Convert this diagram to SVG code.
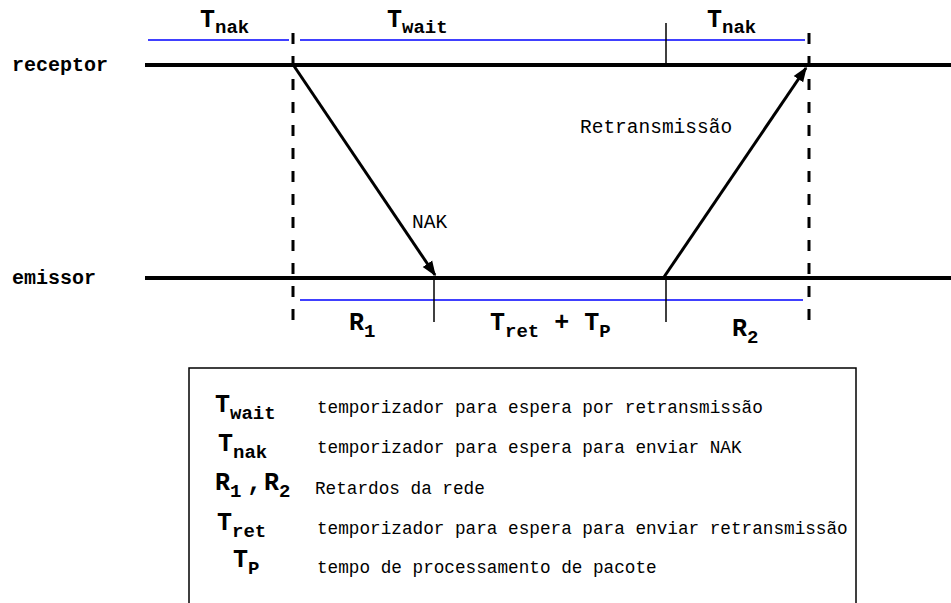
<svg xmlns="http://www.w3.org/2000/svg" width="951" height="603" viewBox="0 0 951 603">
<defs>
<style>
.lbl{font-family:"Liberation Mono","Courier New",monospace;font-weight:bold;font-size:20px;fill:#000}
.sym{font-family:"Liberation Mono","Courier New",monospace;font-weight:bold;font-size:25px;fill:#000}
.sub{font-size:19px}
.desc{font-family:"Liberation Mono","Courier New",monospace;font-size:17.7px;fill:#000}
.note{font-family:"Liberation Mono","Courier New",monospace;font-size:19.5px;fill:#000}
.axis{stroke:#000;stroke-width:4;fill:none}
.dash{stroke:#000;stroke-width:3;stroke-dasharray:11 12;fill:none}
.blue{stroke:#0000ff;stroke-width:1.5;fill:none}
.tick{stroke:#000;stroke-width:1.5;fill:none}
.msg{stroke:#000;stroke-width:3;fill:none}
</style>
<marker id="ah" viewBox="0 0 10 10" refX="9" refY="5" markerWidth="5" markerHeight="5" markerUnits="strokeWidth" orient="auto">
<path d="M0,1.2 L10,5 L0,8.8 z" fill="#000"/>
</marker>
</defs>
<rect width="951" height="603" fill="#fff"/>

<g id="receptor">
<line class="axis" x1="145" y1="65" x2="951" y2="65"/>
<text class="lbl" x="12" y="71">receptor</text>
</g>
<g id="emissor">
<line class="axis" x1="145" y1="278" x2="951" y2="278"/>
<text class="lbl" x="12" y="284">emissor</text>
</g>

<g id="timeline-marks">
<line class="dash" x1="293" y1="33" x2="293" y2="332"/>
<line class="dash" x1="809" y1="33" x2="809" y2="332"/>
<line class="blue" x1="148" y1="40" x2="289" y2="40"/>
<line class="blue" x1="300" y1="40" x2="805" y2="40"/>
<line class="blue" x1="300" y1="300" x2="803" y2="300"/>
<line class="tick" x1="666" y1="23" x2="666" y2="64"/>
<line class="tick" x1="434" y1="278" x2="434" y2="322"/>
<line class="tick" x1="666" y1="278" x2="666" y2="322"/>
</g>

<g id="connectors">
<line class="msg" x1="294" y1="66" x2="435" y2="275" marker-end="url(#ah)"/>
<line class="msg" x1="664" y1="277" x2="806" y2="68" marker-end="url(#ah)"/>
<text class="note" x="412" y="228">NAK</text>
<text class="note" x="580" y="133">Retransmissão</text>
</g>

<g id="interval-labels">
<text class="sym" x="200" y="27">T<tspan class="sub" dy="6">nak</tspan></text>
<text class="sym" x="387" y="27">T<tspan class="sub" dy="6">wait</tspan></text>
<text class="sym" x="707" y="27">T<tspan class="sub" dy="6">nak</tspan></text>
<text class="sym" x="349" y="330">R<tspan class="sub" dy="7">1</tspan></text>
<text class="sym" x="490" y="330">T<tspan class="sub" dy="7">ret</tspan><tspan dy="-7"> + T</tspan><tspan class="sub" dy="7">P</tspan></text>
<text class="sym" x="732" y="336">R<tspan class="sub" dy="7">2</tspan></text>
</g>

<g id="legend">
<rect x="189" y="368" width="667" height="260" fill="none" stroke="#000" stroke-width="1.5"/>
<text class="sym" x="215" y="412">T<tspan class="sub" dy="7">wait</tspan></text>
<text class="desc" x="317" y="413">temporizador para espera por retransmissão</text>
<text class="sym" x="218" y="451">T<tspan class="sub" dy="7">nak</tspan></text>
<text class="desc" x="317" y="453">temporizador para espera para enviar NAK</text>
<text class="sym" x="215" y="490">R<tspan class="sub" dy="7">1</tspan><tspan dy="-7" x="247">,</tspan><tspan x="264">R</tspan><tspan class="sub" dy="7">2</tspan></text>
<text class="desc" x="315" y="494">Retardos da rede</text>
<text class="sym" x="217" y="530">T<tspan class="sub" dy="7">ret</tspan></text>
<text class="desc" x="317" y="534">temporizador para espera para enviar retransmissão</text>
<text class="sym" x="233" y="567">T<tspan class="sub" dy="7">P</tspan></text>
<text class="desc" x="317" y="573">tempo de processamento de pacote</text>
</g>
</svg>
